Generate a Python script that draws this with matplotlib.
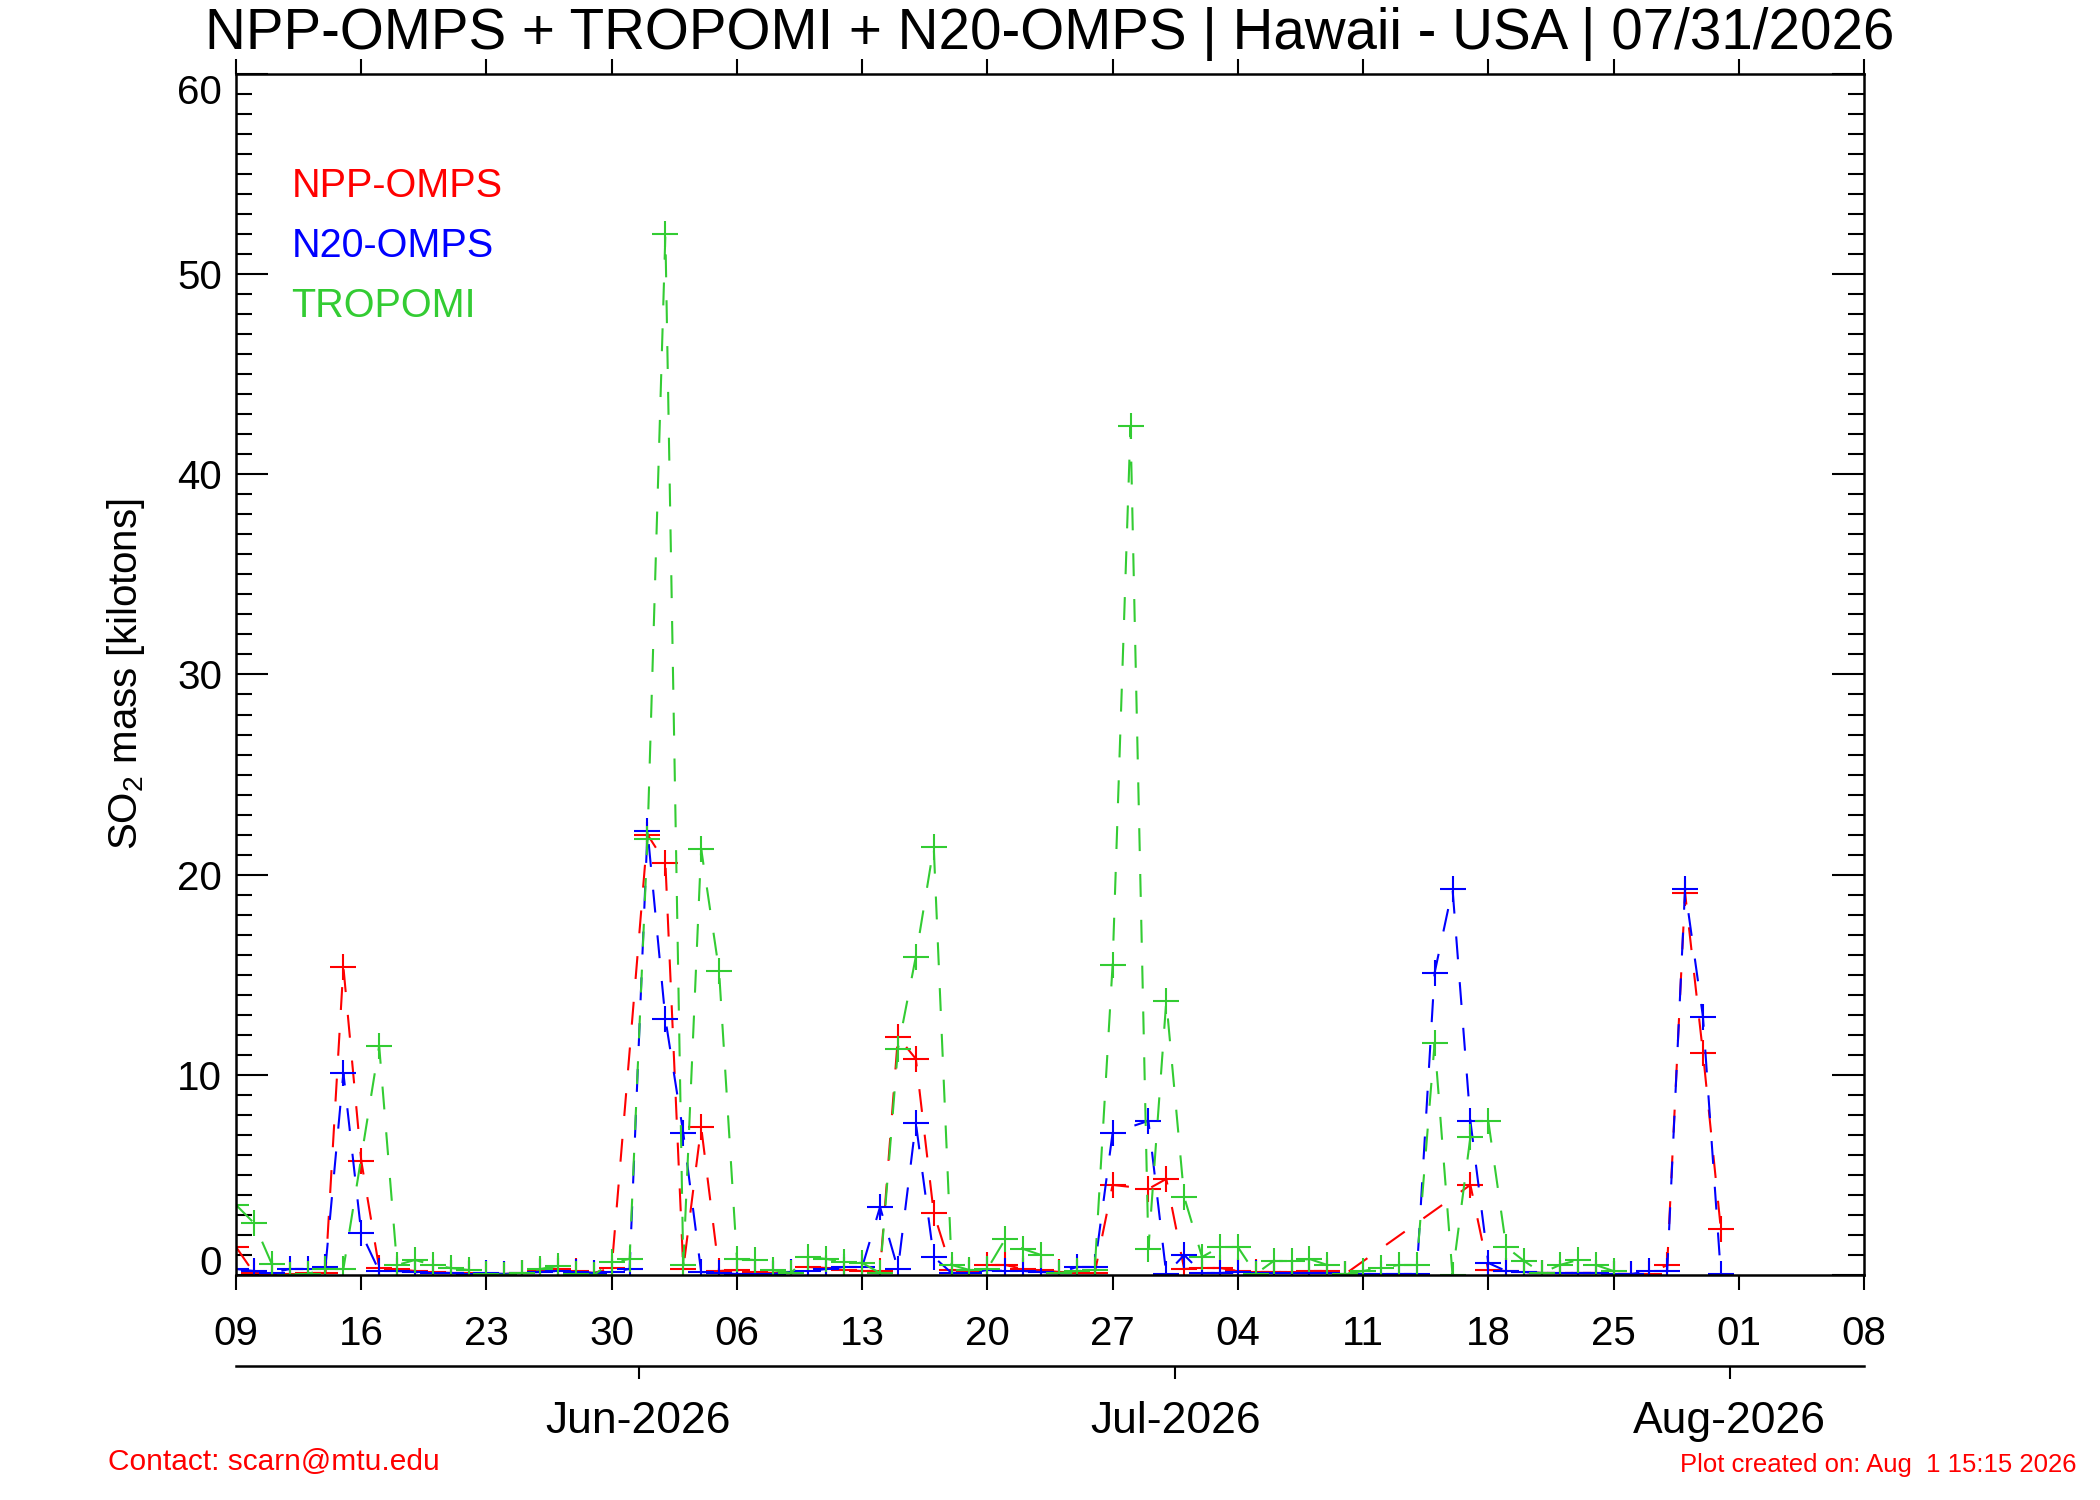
import datetime as dt
import matplotlib
matplotlib.use('Agg')
import matplotlib.pyplot as plt
import matplotlib.dates as mdates
from matplotlib.ticker import MultipleLocator, FixedLocator

plt.rcParams['font.family'] = ['Liberation Sans', 'DejaVu Sans']
plt.rcParams['mathtext.fontset'] = 'custom'
plt.rcParams['mathtext.rm'] = 'Liberation Sans'

START = dt.datetime(2026, 5, 9)
END = dt.datetime(2026, 8, 8)

# day offsets from START, SO2 mass in kilotons
npp_days = [0, 1, 2, 3, 4, 5, 6, 7, 8, 9, 10, 11, 12, 13, 14, 15, 16, 17, 18, 19, 20, 21,
            23, 24, 25, 26, 27, 28, 29, 30, 31, 32, 33, 34, 35, 36, 37, 38, 39, 40, 41, 42,
            43, 44, 45, 46, 47, 48, 49, 51, 52, 53, 54, 55, 56, 57, 58, 59, 60, 61, 62,
            69, 70, 71, 72, 73, 74, 75, 76, 77, 78, 79, 80, 81, 82, 83]
npp_vals = [1.4, 0.1, 0.05, 0.05, 0.1, 0.1, 15.4, 5.7, 0.35, 0.3, 0.2, 0.15, 0.1, 0.1, 0.05, 0.05, 0.1, 0.2, 0.3, 0.2, 0.1, 0.35,
            22.0, 20.6, 0.3, 7.4, 0.2, 0.25, 0.15, 0.1, 0.15, 0.4, 0.35, 0.25, 0.2, 0.2, 11.9, 10.8, 3.1, 0.25, 0.2, 0.5,
            0.5, 0.3, 0.25, 0.15, 0.1, 0.1, 4.5, 4.3, 4.8, 0.3, 0.35, 0.35, 0.2, 0.15, 0.15, 0.15, 0.2, 0.2, 0.05,
            4.5, 0.25, 0.2, 0.15, 0.1, 0.1, 0.1, 0.1, 0.05, 0.05, 0.05, 0.5, 19.1, 11.1, 2.3]

n20_days = [0, 1, 2, 3, 4, 5, 6, 7, 8, 9, 10, 11, 12, 13, 14, 15, 16, 17, 18, 19, 20, 21, 22,
            23, 24, 25, 26, 27, 28, 29, 30, 31, 32, 33, 34, 35, 36, 37, 38, 39, 40, 41, 42,
            43, 44, 45, 46, 47, 48, 49, 51, 52, 53, 54, 55, 56, 57, 58, 59, 60, 61, 62,
            63, 64, 65, 66, 67, 68, 69, 70, 71, 72, 73, 74, 75, 76, 77, 78, 79, 80, 81, 82, 83]
n20_vals = [0.3, 0.2, 0.1, 0.3, 0.3, 0.4, 10.1, 2.1, 0.2, 0.2, 0.15, 0.1, 0.1, 0.05, 0.1, 0.05, 0.1, 0.15, 0.2, 0.15, 0.1, 0.15, 0.3,
            22.2, 12.8, 7.1, 0.15, 0.1, 0.05, 0.05, 0.05, 0.15, 0.2, 0.3, 0.4, 0.4, 3.4, 0.3, 7.6, 0.9, 0.1, 0.1, 0.25,
            0.2, 0.2, 0.15, 0.1, 0.4, 0.4, 7.1, 7.7, 0.05, 1.0, 0.1, 0.1, 0.15, 0.1, 0.1, 0.1, 0.1, 0.1, 0.05,
            0.05, 0.05, 0.05, 0.05, 15.1, 19.3, 7.7, 0.6, 0.2, 0.15, 0.1, 0.1, 0.1, 0.1, 0.05, 0.05, 0.2, 0.2, 19.3, 12.9, 0.05]

tropomi_days = [0, 1, 2, 3, 4, 5, 6, 8, 9, 10, 11, 12, 13, 14, 15, 16, 17, 18, 19, 20, 21, 22,
                23, 24, 25, 26, 27, 28, 29, 30, 31, 32, 33, 34, 35, 36, 37, 38, 39, 40, 41, 42,
                43, 44, 45, 46, 47, 48, 49, 50, 51, 52, 53, 54, 55, 56, 57, 58, 59, 60, 61, 62,
                63, 64, 65, 66, 67, 68, 69, 70, 71, 72, 73, 74, 75, 76, 77]
tropomi_vals = [3.5, 2.6, 0.55, 0.0, 0.05, 0.3, 0.3, 11.45, 0.5, 0.75, 0.5, 0.35, 0.25, 0.05, 0.0, 0.1, 0.3, 0.45, 0.05, 0.0, 0.65, 0.8,
                21.8, 52.0, 0.5, 21.3, 15.2, 0.8, 0.75, 0.25, 0.1, 0.9, 0.8, 0.65, 0.6, 0.1, 11.3, 15.9, 21.4, 0.5, 0.25, 0.3,
                1.8, 1.3, 1.0, 0.1, 0.2, 0.25, 15.5, 42.4, 1.3, 13.7, 3.9, 0.9, 1.4, 1.4, 0.05, 0.7, 0.7, 0.8, 0.5, 0.05,
                0.2, 0.35, 0.5, 0.5, 11.6, 0.0, 6.9, 7.7, 1.4, 0.7, 0.1, 0.5, 0.75, 0.5, 0.2]

series = [
    ('NPP-OMPS', npp_days, npp_vals, '#ff0000'),
    ('N20-OMPS', n20_days, n20_vals, '#0000ff'),
    ('TROPOMI', tropomi_days, tropomi_vals, '#33cc33'),
]

TITLE = 'NPP-OMPS + TROPOMI + N20-OMPS | Hawaii - USA | 07/31/2026'
CONTACT = 'Contact: scarn@mtu.edu'
CREATED = 'Plot created on: Aug  1 15:15 2026'


def to_dates(days):
    return [START + dt.timedelta(days=d) for d in days]


fig = plt.figure(figsize=(21, 15), dpi=100)
ax = fig.add_axes([0.1124, 0.15, 0.7752, 0.8007])

for name, days, vals, col in series:
    ax.plot(to_dates(days), vals, color=col, lw=1.5, ls=(0, (11, 11)),
            marker='+', ms=19, mew=1.5)

ax.set_xlim(START, END)
ax.set_ylim(0, 60)

# weekly ticks, day of month only
week_ticks = [START + dt.timedelta(days=7 * i) for i in range(14)]
ax.xaxis.set_major_locator(FixedLocator(mdates.date2num(week_ticks)))
ax.xaxis.set_major_formatter(mdates.DateFormatter('%d'))
ax.tick_params(axis='x', which='major', direction='out', length=11, width=1.5,
               top=True, labeltop=False, labelsize=29, pad=18)

ax.yaxis.set_major_locator(MultipleLocator(10))
ax.yaxis.set_minor_locator(MultipleLocator(1))
ax.tick_params(axis='y', which='major', direction='in', length=23, width=1.5,
               right=True, labelsize=29, pad=10)
ax.tick_params(axis='y', which='minor', direction='in', length=11.5, width=1.5, right=True)
for s in ax.spines.values():
    s.set_linewidth(1.8)

ax.set_ylabel('SO$_2$ mass [kilotons]', fontsize=29, labelpad=22)

# month axis below, ticks sit half a day before the 1st like the original
sec = ax.secondary_xaxis(-0.0758)
months = [dt.datetime(2026, 6, 1), dt.datetime(2026, 7, 1), dt.datetime(2026, 8, 1)]
month_ticks = [m - dt.timedelta(hours=12) for m in months]
sec.xaxis.set_major_locator(FixedLocator(mdates.date2num(month_ticks)))
sec.xaxis.set_major_formatter(plt.FixedFormatter([m.strftime('%b-%Y') for m in months]))
sec.tick_params(axis='x', direction='out', length=9.5, width=1.5, labelsize=32, pad=16)
sec.spines['bottom'].set_linewidth(1.8)

# legend as coloured text
for i, (name, days, vals, col) in enumerate(series):
    ax.text(0.034, 0.907 - 0.05 * i, name, color=col, fontsize=28.5,
            transform=ax.transAxes, va='center', ha='left')

ax.set_title(TITLE, fontsize=40.7, pad=18)
fig.text(0.0514, 0.0256, CONTACT, color='#ff0000', fontsize=21.5, va='center', ha='left')
fig.text(0.989, 0.0236, CREATED, color='#ff0000', fontsize=18.5, va='center', ha='right')

# end labels on the y axis are nudged inside the frame
fig.canvas.draw()
for t in ax.yaxis.get_major_ticks():
    if abs(t.get_loc()) < 1e-9:
        t.label1.set_va('baseline')
    elif abs(t.get_loc() - 60) < 1e-9:
        t.label1.set_va('top')

fig.savefig('out.png', dpi=100, facecolor='white')
